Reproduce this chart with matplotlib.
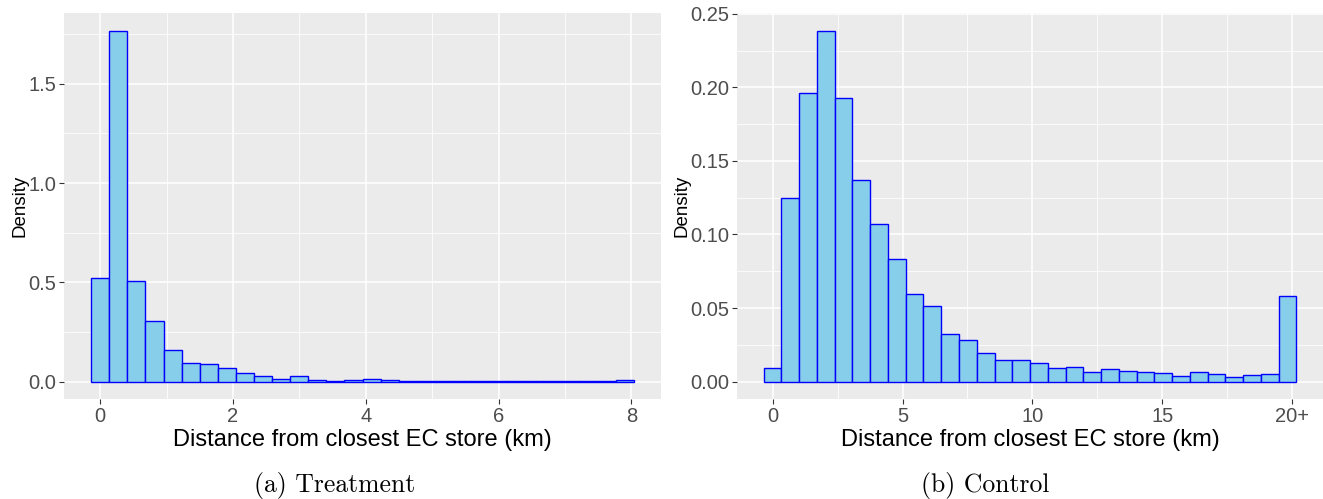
import numpy as np
import matplotlib
matplotlib.use("Agg")
from matplotlib import pyplot as plt
from matplotlib.ticker import FixedLocator

# treatment: 30 bins, distance (km)
treat_min, treat_max = 0.0, 7.9
treat_density = [0.524, 1.768, 0.507, 0.306, 0.159, 0.094, 0.088, 0.067, 0.045, 0.030,
                 0.015, 0.027, 0.010, 0.005, 0.010, 0.012, 0.007, 0.005, 0.005, 0.002,
                 0.004, 0.001, 0.001, 0.001, 0.001, 0.001, 0.004, 0.001, 0.001, 0.008]
treat_ticks = [0, 2, 4, 6, 8]
treat_ticklabels = ["0", "2", "4", "6", "8"]
treat_yticks = [0.0, 0.5, 1.0, 1.5]

# control: 30 bins, distances above 20 km pooled into the last bin
ctrl_min, ctrl_max = -0.01, 19.83
ctrl_density = [0.0091, 0.1245, 0.1959, 0.2386, 0.1925, 0.1368, 0.1068, 0.0836, 0.0593, 0.0516,
                0.0327, 0.0280, 0.0195, 0.0145, 0.0145, 0.0130, 0.0091, 0.0102, 0.0064, 0.0084,
                0.0073, 0.0068, 0.0059, 0.0036, 0.0066, 0.0050, 0.0030, 0.0045, 0.0050, 0.0584]
ctrl_ticks = [0, 5, 10, 15, 20]
ctrl_ticklabels = ["0", "5", "10", "15", "20+"]
ctrl_yticks = [0.00, 0.05, 0.10, 0.15, 0.20, 0.25]

captions = ["(a) Treatment", "(b) Control"]
xlabel = "Distance from closest EC store (km)"

SANS = ["Liberation Sans", "DejaVu Sans"]
plt.rcParams["font.family"] = SANS


def ggplot_hist(ax, vmin, vmax, density, ticks, ticklabels, yticks, yfmt):
    n = len(density)
    # ggplot bins=30: bin centres run from min to max
    width = (vmax - vmin) / (n - 1)
    edges = vmin - width / 2 + width * np.arange(n)
    ax.bar(edges, density, width=width, align="edge", color="#87CEEB",
           edgecolor="#0000FF", linewidth=1.0, zorder=3)

    lo, hi = edges[0], edges[-1] + width
    xpad = (hi - lo) * 0.05
    ax.set_xlim(lo - xpad, hi + xpad)
    ypad = max(density) * 0.05
    ax.set_ylim(-ypad, max(density) + ypad)

    ax.set_facecolor("#EBEBEB")
    for s in ax.spines.values():
        s.set_visible(False)

    ax.xaxis.set_major_locator(FixedLocator(ticks))
    ax.set_xticklabels(ticklabels)
    ax.xaxis.set_minor_locator(FixedLocator([(a + b) / 2 for a, b in zip(ticks[:-1], ticks[1:])]))
    ax.yaxis.set_major_locator(FixedLocator(yticks))
    ax.set_yticklabels([yfmt.format(v) for v in yticks])
    ystep = yticks[1] - yticks[0]
    ax.yaxis.set_minor_locator(FixedLocator([v + ystep / 2 for v in yticks]))

    ax.grid(which="major", color="white", linewidth=1.1, zorder=0)
    ax.grid(which="minor", color="white", linewidth=0.55, zorder=0)
    ax.set_axisbelow(True)
    ax.tick_params(which="major", length=3.5, width=0.8, color="#333333",
                   labelcolor="#4D4D4D", labelsize=14.5, pad=2)
    ax.tick_params(which="minor", length=0)

    ax.set_xlabel(xlabel, fontsize=17, labelpad=2)
    ax.set_ylabel("Density", fontsize=13.5, labelpad=0)


fig = plt.figure(figsize=(13.23, 4.99), dpi=100)
ax1 = fig.add_axes([0.0484, 0.200, 0.4512, 0.774])
ax2 = fig.add_axes([0.5571, 0.200, 0.4429, 0.774])

ggplot_hist(ax1, treat_min, treat_max, treat_density, treat_ticks, treat_ticklabels,
            treat_yticks, "{:.1f}")
ggplot_hist(ax2, ctrl_min, ctrl_max, ctrl_density, ctrl_ticks, ctrl_ticklabels,
            ctrl_yticks, "{:.2f}")

fig.text(0.253, 0.028, captions[0], ha="center", va="center", fontsize=18.5,
         family=["cmr10", "DejaVu Serif"])
fig.text(0.745, 0.028, captions[1], ha="center", va="center", fontsize=18.5,
         family=["cmr10", "DejaVu Serif"])

fig.savefig("out.png", dpi=100)
